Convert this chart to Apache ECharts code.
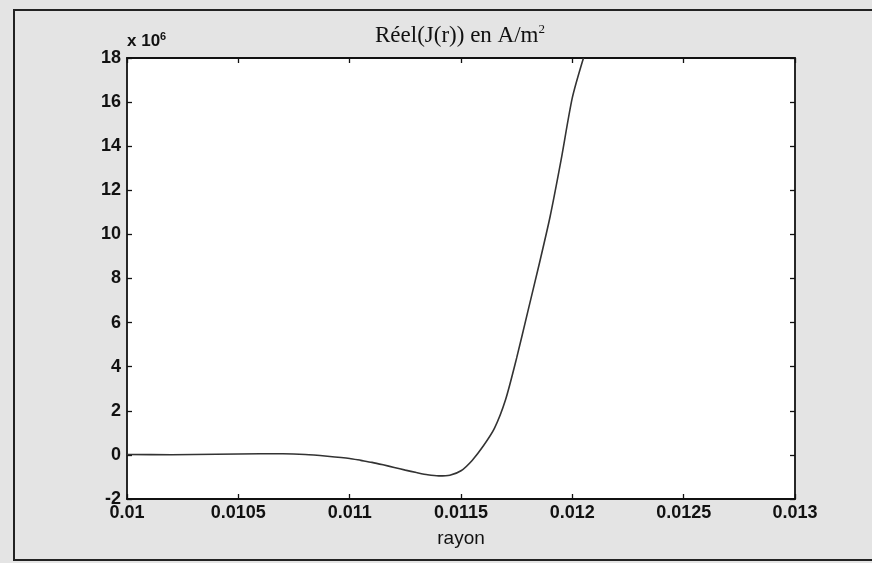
<!DOCTYPE html>
<html>
<head>
<meta charset="utf-8">
<script src="https://cdn.jsdelivr.net/npm/echarts@6/dist/echarts.min.js"></script>
<style>
html,body{margin:0;padding:0;background:#e4e4e4;}
#chart{width:872px;height:563px;}
</style>
</head>
<body>
<div id="chart"></div>
<script>
// radius (m)
const rayon = [0.0100, 0.0102, 0.0104, 0.0106, 0.0107, 0.0108, 0.0109, 0.0110, 0.01105, 0.0111,
  0.01115, 0.0112, 0.01125, 0.0113, 0.01135, 0.0114, 0.01145, 0.0115, 0.01155, 0.0116,
  0.01165, 0.0117, 0.01175, 0.0118, 0.01185, 0.0119, 0.01195, 0.0120, 0.01205];
// Re(J(r)) in units of 1e6 A/m^2
const reelJ = [0.02, 0.01, 0.03, 0.05, 0.05, 0.02, -0.06, -0.16, -0.25, -0.34,
  -0.45, -0.57, -0.69, -0.8, -0.9, -0.95, -0.92, -0.72, -0.25, 0.4,
  1.2, 2.5, 4.4, 6.5, 8.6, 10.8, 13.4, 16.2, 18.0];
const xTickLabels = ['0.01', '0.0105', '0.011', '0.0115', '0.012', '0.0125', '0.013'];
const yTickLabels = ['-2', '0', '2', '4', '6', '8', '10', '12', '14', '16', '18'];

const chart = echarts.init(document.getElementById('chart'));
const data = rayon.map((x, i) => [x, reelJ[i]]);
const axisLineStyle = {color: '#111', width: 1.8};
const tickStyle = {show: true, inside: true, length: 5, lineStyle: {color: '#111', width: 1.3}};
const labelFont = {color: '#111', fontFamily: 'Liberation Sans, Arial, sans-serif', fontSize: 18, fontWeight: 'bold'};

chart.setOption({
  backgroundColor: '#e4e4e4',
  animation: false,
  title: {
    text: 'Réel(J(r)) en A/m{sup|2}',
    left: 455, top: 18, textAlign: 'center',
    textStyle: {
      fontFamily: 'Liberation Serif, Times New Roman, serif', fontSize: 23, fontWeight: 'normal', color: '#111',
      rich: {sup: {fontFamily: 'Liberation Serif, serif', fontSize: 13, verticalAlign: 'top', padding: [0, 0, 12, 0], color: '#111'}}
    }
  },
  graphic: [
    {type: 'rect', shape: {x: 14, y: 10, width: 900, height: 550}, style: {fill: 'none', stroke: '#222', lineWidth: 2}, silent: true},
    {type: 'text', left: 127, top: 31, style: {text: 'x 10{s|6}', fill: '#111', font: 'bold 17px Liberation Sans, Arial, sans-serif',
      rich: {s: {fontSize: 11, fontWeight: 'bold', verticalAlign: 'top', padding: [0, 0, 10, 0], fill: '#111'}}}}
  ],
  grid: {left: 127, right: 77, top: 58, bottom: 64, show: true, backgroundColor: '#ffffff', borderWidth: 0},
  xAxis: [{
    type: 'value', min: 0.01, max: 0.013, interval: 0.0005,
    name: 'rayon', nameLocation: 'middle', nameGap: 30,
    nameTextStyle: {color: '#111', fontFamily: 'Liberation Sans, Arial, sans-serif', fontSize: 19},
    axisLine: {show: true, onZero: false, lineStyle: axisLineStyle},
    axisTick: tickStyle,
    splitLine: {show: false},
    axisLabel: Object.assign({margin: 5, formatter: v => xTickLabels[Math.round((v - 0.01) / 0.0005)]}, labelFont)
  }, {
    type: 'value', min: 0.01, max: 0.013, interval: 0.0005, position: 'top',
    axisLine: {show: true, onZero: false, lineStyle: axisLineStyle},
    axisTick: tickStyle, axisLabel: {show: false}, splitLine: {show: false}
  }],
  yAxis: [{
    type: 'value', min: -2, max: 18, interval: 2,
    axisLine: {show: true, onZero: false, lineStyle: axisLineStyle},
    axisTick: tickStyle,
    splitLine: {show: false},
    axisLabel: Object.assign({margin: 6, formatter: v => yTickLabels[Math.round((v + 2) / 2)]}, labelFont)
  }, {
    type: 'value', min: -2, max: 18, interval: 2, position: 'right',
    axisLine: {show: true, onZero: false, lineStyle: axisLineStyle},
    axisTick: tickStyle, axisLabel: {show: false}, splitLine: {show: false}
  }],
  series: [{
    type: 'line', data: data, xAxisIndex: 0, yAxisIndex: 0,
    showSymbol: false, smooth: 0.25, clip: true,
    lineStyle: {color: '#333', width: 1.6}
  }]
});
</script>
</body>
</html>
